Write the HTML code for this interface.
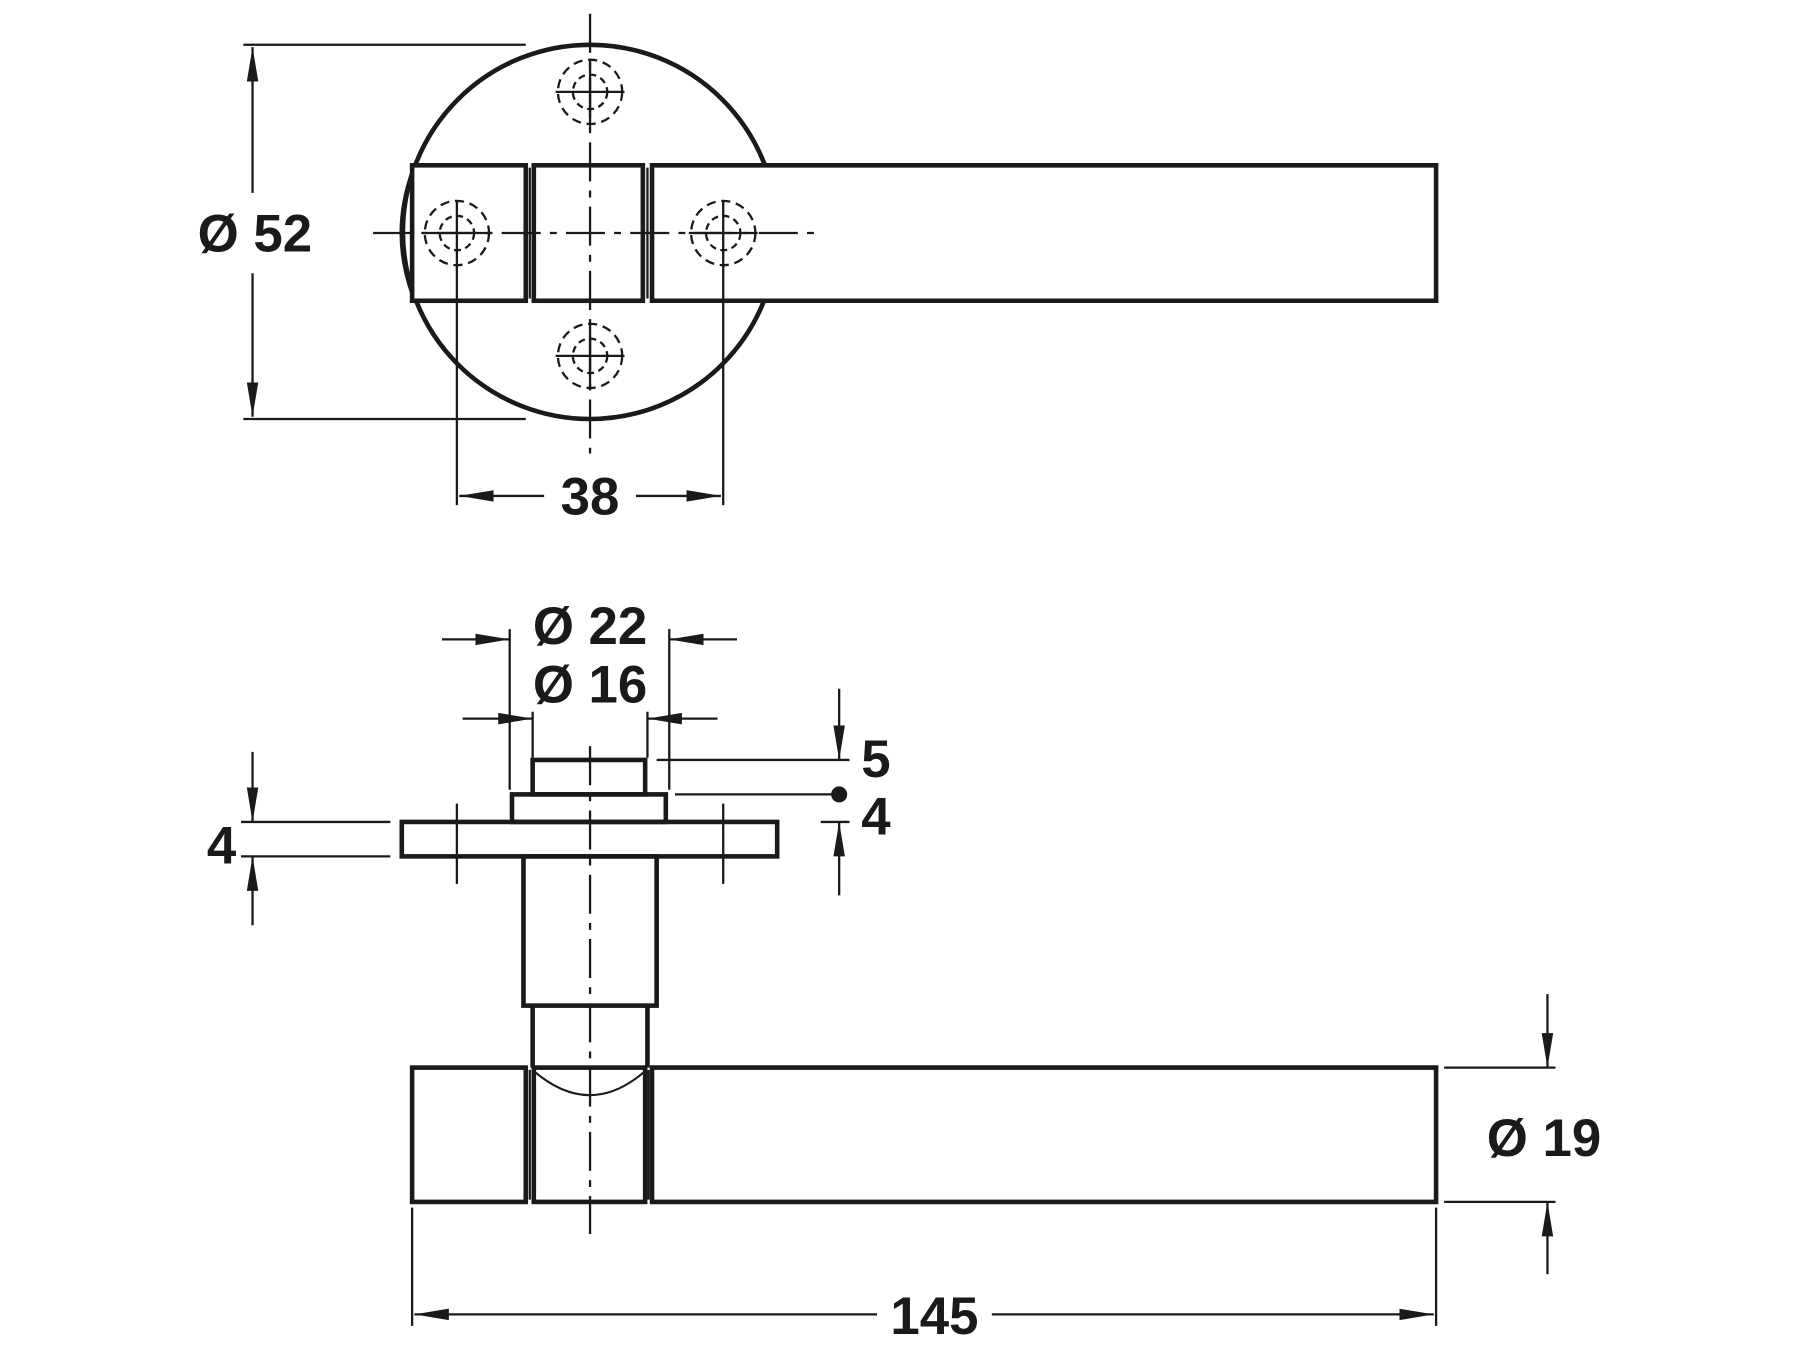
<!DOCTYPE html>
<html><head><style>html,body{margin:0;padding:0;background:#fff}svg{display:block}
text{font-family:"Liberation Sans",sans-serif;font-weight:bold;fill:#1a1a1a}</style></head><body>
<svg width="1800" height="1350" viewBox="0 0 1568 1176" xmlns="http://www.w3.org/2000/svg">
<defs>
<marker id="b" viewBox="0 0 30 12" refX="30" refY="6" markerWidth="30" markerHeight="12" markerUnits="userSpaceOnUse" orient="auto-start-reverse"><path d="M0,1 L30,6 L0,11z" fill="#1a1a1a"/></marker>
<g id="scr" fill="none" stroke="#1a1a1a" stroke-width="2">
<circle r="28" stroke-dasharray="8,5"/><circle r="15" stroke-dasharray="6,4"/>
<line x1="-30" y1="0" x2="30" y2="0"/><line x1="0" y1="-28" x2="0" y2="30"/>
</g>
</defs>
<g fill="none" stroke="#1a1a1a">
<circle cx="514" cy="202" r="163" stroke-width="4"/>
<rect x="359" y="144" width="892" height="118" fill="#fff" stroke="none"/>
<g stroke-width="4">
<rect x="359" y="144" width="99" height="118"/>
<rect x="465" y="144" width="95" height="118"/>
<path d="M1251,144 H568 V262 H1251 Z"/>
</g>
<g stroke-width="2"><line x1="461.5" y1="146" x2="461.5" y2="260"/><line x1="564" y1="146" x2="564" y2="260"/></g>
<path d="M359,150 Q340,203 359,256" stroke-width="3"/>
<use href="#scr" x="514" y="80"/><use href="#scr" x="514" y="310"/>
<use href="#scr" x="398" y="203"/><use href="#scr" x="630" y="203"/>
<g stroke-width="2">
<line x1="514" y1="12" x2="514" y2="395" stroke-dasharray="34,8,6,8"/>
<line x1="325" y1="203" x2="715" y2="203" stroke-dasharray="34,8,6,8"/>
<line x1="212" y1="39" x2="458" y2="39"/><line x1="212" y1="365" x2="458" y2="365"/>
<line x1="220" y1="41" x2="220" y2="168" marker-start="url(#b)"/>
<line x1="220" y1="238" x2="220" y2="363" marker-end="url(#b)"/>
<line x1="398" y1="230" x2="398" y2="440"/><line x1="630" y1="230" x2="630" y2="440"/>
<line x1="400" y1="432" x2="474" y2="432" marker-start="url(#b)"/>
<line x1="554" y1="432" x2="628" y2="432" marker-end="url(#b)"/>
</g>
<g stroke-width="4">
<rect x="464" y="662" width="98" height="30"/>
<rect x="446" y="692" width="134" height="24"/>
<rect x="350" y="716" width="327" height="30"/>
<rect x="456" y="746" width="116" height="130"/>
<line x1="464" y1="876" x2="464" y2="930"/><line x1="564" y1="876" x2="564" y2="930"/>
<rect x="359" y="930" width="99" height="117"/>
<rect x="465" y="930" width="97" height="117"/>
<path d="M1251,930 H568 V1047 H1251 Z"/>
</g>
<g stroke-width="2"><line x1="461.5" y1="932" x2="461.5" y2="1045"/><line x1="565" y1="932" x2="565" y2="1045"/></g>
<path d="M465,933 Q514,975 562,933" stroke-width="1.8"/>
<g stroke-width="2">
<line x1="514" y1="650" x2="514" y2="1075" stroke-dasharray="34,8,6,8"/>
<line x1="398" y1="700" x2="398" y2="770"/><line x1="630" y1="700" x2="630" y2="770"/>
<line x1="444" y1="548" x2="444" y2="688"/><line x1="583" y1="548" x2="583" y2="688"/>
<line x1="385" y1="557" x2="444" y2="557" marker-end="url(#b)"/>
<line x1="642" y1="557" x2="583" y2="557" marker-end="url(#b)"/>
<line x1="464" y1="620" x2="464" y2="660"/><line x1="564" y1="620" x2="564" y2="660"/>
<line x1="403" y1="626" x2="464" y2="626" marker-end="url(#b)"/>
<line x1="625" y1="626" x2="564" y2="626" marker-end="url(#b)"/>
<line x1="572" y1="662" x2="740" y2="662"/><line x1="588" y1="692" x2="725" y2="692"/>
<line x1="715" y1="716" x2="740" y2="716"/>
<line x1="731" y1="600" x2="731" y2="662" marker-end="url(#b)"/>
<line x1="731" y1="780" x2="731" y2="716" marker-end="url(#b)"/>
<line x1="210" y1="716" x2="340" y2="716"/><line x1="210" y1="746" x2="340" y2="746"/>
<line x1="220" y1="655" x2="220" y2="716" marker-end="url(#b)"/>
<line x1="220" y1="806" x2="220" y2="746" marker-end="url(#b)"/>
<line x1="1258" y1="930" x2="1355" y2="930"/><line x1="1258" y1="1047" x2="1355" y2="1047"/>
<line x1="1348" y1="866" x2="1348" y2="930" marker-end="url(#b)"/>
<line x1="1348" y1="1110" x2="1348" y2="1047" marker-end="url(#b)"/>
<line x1="359" y1="1052" x2="359" y2="1155"/><line x1="1251" y1="1052" x2="1251" y2="1155"/>
<line x1="361" y1="1145" x2="764" y2="1145" marker-start="url(#b)"/>
<line x1="864" y1="1145" x2="1249" y2="1145" marker-end="url(#b)"/>
</g>
</g>
<circle cx="731" cy="692" r="7" fill="#1a1a1a"/>
<g font-size="46" text-anchor="middle">
<text x="222" y="219">Ø 52</text>
<text x="514" y="448">38</text>
<text x="514" y="561">Ø 22</text>
<text x="514" y="612">Ø 16</text>
<text x="763" y="677">5</text>
<text x="763" y="727">4</text>
<text x="193" y="752">4</text>
<text x="1345" y="1007">Ø 19</text>
<text x="814" y="1162">145</text>
</g>
</svg>
</body></html>
